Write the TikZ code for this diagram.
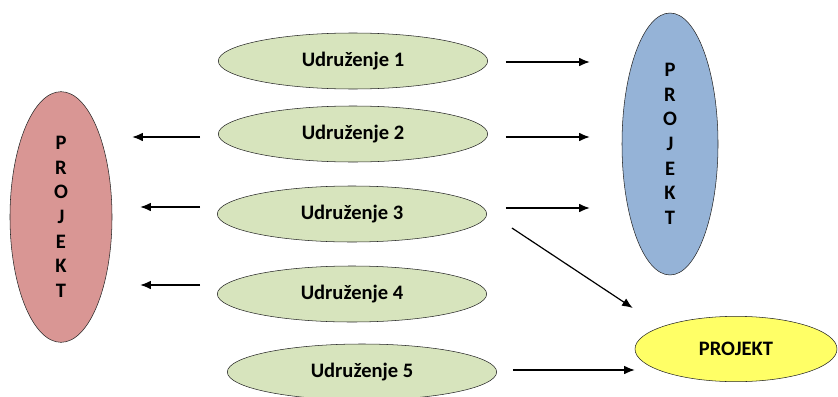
\documentclass[tikz,border=0pt]{standalone}
\usepackage{fontspec}
\setmainfont{Carlito}
\usetikzlibrary{shapes.geometric,arrows.meta}

\definecolor{udrGreen}{HTML}{D7E4BD}
\definecolor{projRed}{HTML}{D99694}
\definecolor{projBlue}{HTML}{95B3D7}
\definecolor{projYellow}{HTML}{FFFF66}

\tikzset{
  udr/.style={ellipse,draw=black!85,fill=udrGreen,inner sep=0pt,
    minimum width=202pt,minimum height=42pt,
    font=\bfseries\fontsize{15.4}{18.5}\selectfont},
  proj/.style={ellipse,draw=black!85,inner sep=0pt,align=center,
    font=\bfseries\fontsize{15.4}{18.5}\selectfont},
  arr/.style={-{Latex[length=8pt,width=6.5pt]},line width=0.9pt}
}

\begin{document}
\begin{tikzpicture}[x=0.75pt,y=-0.75pt]
        \useasboundingbox (0,0) rectangle (838,396);

        \node[udr] (u1) at (353,61)  {Udruženje 1};
        \node[udr] (u2) at (353,134) {Udruženje 2};
        \node[udr] (u3) at (352,214) {Udruženje 3};
        \node[udr] (u4) at (352,294) {Udruženje 4};
        \node[udr] (u5) at (362,372) {Udruženje 5};

        \node[proj,fill=projRed,minimum width=76.5pt,minimum height=188pt]  (pl) at (61,217)  {P\\R\\O\\J\\E\\K\\T};
        \node[proj,fill=projBlue,minimum width=72pt,minimum height=196.5pt] (pr) at (670,144) {P\\R\\O\\J\\E\\K\\T};
        \node[proj,fill=projYellow,minimum width=151.5pt,minimum height=49pt] (pb) at (736,349) {PROJEKT};

        \draw[arr] ([shift={(18,1)}]u1.east)  -- ([shift={(-32,-82)}]pr.west);
        \draw[arr] ([shift={(18,3)}]u2.east)  -- ([shift={(-32,-7)}]pr.west);
        \draw[arr] ([shift={(19,-6)}]u3.east) -- ([shift={(-32,64)}]pr.west);
        \draw[arr] ([shift={(25,14)}]u3.east) -- ([shift={(-2,-41)}]pb.west);
        \draw[arr] ([shift={(16,-2)}]u5.east) -- ([shift={(0,21)}]pb.west);

        \draw[arr] ([shift={(-18,3)}]u2.west) -- ([shift={(20,-80)}]pl.east);
        \draw[arr] ([shift={(-17,-7)}]u3.west) -- ([shift={(28,-10)}]pl.east);
        \draw[arr] ([shift={(-17,-9)}]u4.west) -- ([shift={(28,68)}]pl.east);
    \end{tikzpicture}
\end{document}
